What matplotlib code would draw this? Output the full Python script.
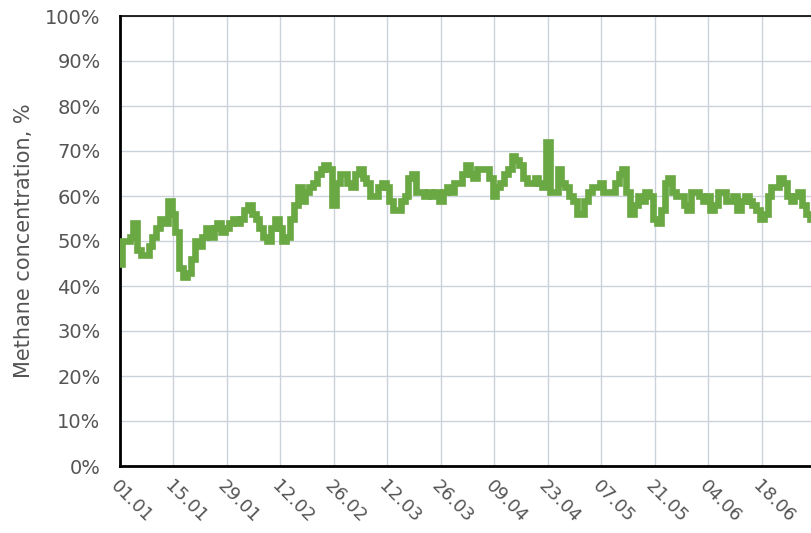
import numpy as np
import pandas as pd
import matplotlib
matplotlib.use("Agg")
import matplotlib.pyplot as plt
import matplotlib.dates as mdates

# daily methane concentration, %, starting 01.01
start_date = "2019-01-01"
methane_pct = [
    45, 50, 50, 51, 54, 48, 47, 47, 49, 51, 53, 55, 54, 59,
    56, 52, 44, 42, 43, 46, 50, 49, 51, 53, 51, 53, 54, 52,
    53, 54, 55, 54, 55, 57, 58, 56, 55, 53, 51, 50, 53, 55,
    53, 50, 51, 55, 58, 62, 59, 61, 62, 63, 65, 66, 67, 66,
    58, 63, 65, 65, 63, 62, 65, 66, 64, 63, 60, 60, 62, 63,
    62, 59, 57, 57, 59, 60, 64, 65, 61, 61, 60, 61, 60, 61,
    59, 61, 62, 61, 63, 63, 65, 67, 65, 64, 66, 66, 66, 64,
    60, 62, 63, 65, 66, 69, 68, 67, 64, 63, 63, 64, 63, 62,
    72, 61, 61, 66, 63, 62, 60, 59, 56, 56, 59, 61, 62, 62,
    63, 61, 61, 61, 63, 65, 66, 61, 56, 58, 60, 59, 61, 60,
    55, 54, 57, 63, 64, 61, 60, 60, 58, 57, 61, 61, 60, 59,
    60, 57, 58, 61, 61, 59, 59, 60, 57, 59, 60, 59, 58, 57,
    55, 56, 60, 62, 62, 64, 63, 60, 59, 60, 61, 58, 56, 55,
]
y_ticks = [0, 10, 20, 30, 40, 50, 60, 70, 80, 90, 100]
y_label = "Methane concentration, %"

dates = pd.date_range(start_date, periods=len(methane_pct), freq="D")
tick_dates = pd.date_range(start_date, periods=13, freq="14D")

fig = plt.figure(figsize=(8.12, 5.33), dpi=100)
# axes run past the right edge of the picture, as in the reference
ax = fig.add_axes([120 / 812, 67 / 533, 726 / 812, 450 / 533])

ax.plot(dates, methane_pct, color="#6aa843", lw=4.8, drawstyle="steps-mid",
        solid_joinstyle="miter", zorder=3)

ax.set_xlim(pd.Timestamp(start_date), pd.Timestamp(start_date) + pd.Timedelta(days=190))
ax.set_ylim(0, 100)
ax.set_yticks(y_ticks)
ax.set_yticklabels([f"{v}%" for v in y_ticks])
ax.set_xticks(tick_dates)
ax.xaxis.set_major_formatter(mdates.DateFormatter("%d.%m"))

ax.grid(True, color="#ccd2db", lw=1)
ax.set_axisbelow(True)

for s in ["left", "bottom"]:
    ax.spines[s].set_linewidth(2)
    ax.spines[s].set_color("black")
ax.spines["top"].set_linewidth(1.2)
ax.spines["top"].set_color("black")
ax.spines["right"].set_visible(False)

ax.tick_params(axis="y", length=0, pad=14, labelsize=14, labelcolor="#555555")
ax.tick_params(axis="x", length=0, pad=8, labelsize=13, labelcolor="#555555")
for lbl in ax.get_xticklabels():
    lbl.set_rotation(-45)
    lbl.set_ha("left")
    lbl.set_va("top")
    lbl.set_rotation_mode("anchor")

ax.set_ylabel(y_label, fontsize=15, color="#555555", labelpad=8)

fig.savefig("out.png", dpi=100)
